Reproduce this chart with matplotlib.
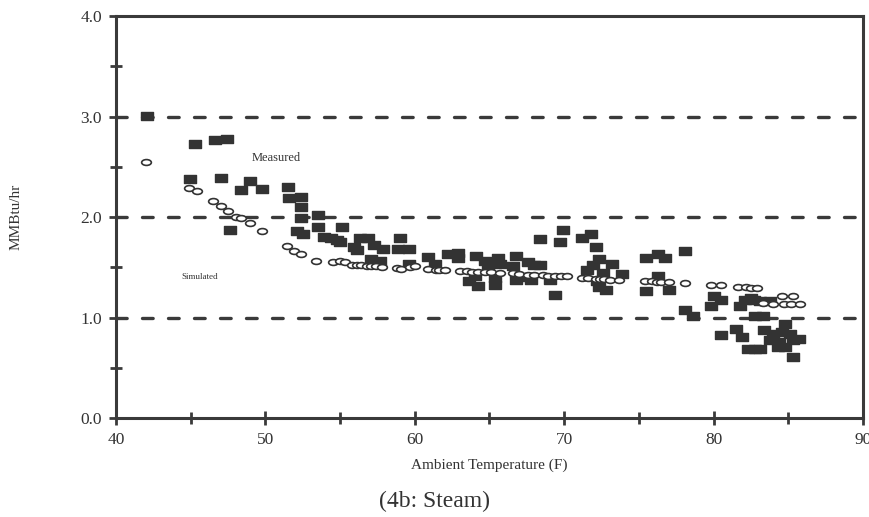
import matplotlib
matplotlib.use('Agg')
import matplotlib.pyplot as plt
from matplotlib.path import Path
from matplotlib.transforms import Affine2D
from matplotlib.ticker import MultipleLocator

# measured steam use (filled squares)
measured_temp = [42.1, 45.3, 46.6, 47.4, 44.95, 47.0, 48.95, 48.4, 49.8,
                 51.5, 51.6, 52.4, 52.4, 52.4, 53.5, 53.5, 53.9, 54.8, 47.6, 52.1, 52.5,
                 55.1, 54.4, 55.0, 55.9, 56.1, 56.3, 56.9, 57.3, 57.9, 57.1, 57.7, 59.0, 58.9, 59.6, 59.6, 60.9,
                 61.35, 62.2, 62.9, 62.9, 64.1, 64.7, 64.9, 65.6, 65.7, 63.6, 64.25, 65.4, 64.0, 65.4,
                 66.8, 66.6, 66.8, 67.6, 68.0, 67.4, 67.8, 68.4,
                 69.9, 69.7, 71.2, 71.8, 72.1, 72.35, 71.95, 71.5, 73.2, 72.6, 72.2, 72.3, 72.8, 73.85,
                 69.05, 69.4, 68.4, 75.5,
                 76.3, 76.75, 78.1, 76.3, 75.5, 77.0, 78.1, 78.6, 80.0, 80.5, 79.8, 81.5, 81.9, 80.5,
                 81.8, 82.1, 82.5, 82.3,
                 82.7, 83.1, 83.8, 82.8, 83.3, 83.4, 84.0, 84.6, 85.1, 85.7, 83.8, 84.4, 84.8, 84.3,
                 84.8, 82.8, 83.1, 85.3, 85.3]
measured_load = [3.01, 2.73, 2.77, 2.78, 2.38, 2.39, 2.36, 2.27, 2.28,
                 2.30, 2.19, 2.20, 2.10, 1.99, 2.02, 1.90, 1.80, 1.77, 1.87, 1.86, 1.83,
                 1.90, 1.79, 1.75, 1.70, 1.67, 1.79, 1.79, 1.72, 1.68, 1.58, 1.56, 1.79, 1.68, 1.68, 1.53, 1.60,
                 1.53, 1.63, 1.64, 1.59, 1.61, 1.56, 1.52, 1.59, 1.53, 1.36, 1.31, 1.32, 1.41, 1.39,
                 1.61, 1.51, 1.37, 1.55, 1.52, 1.40, 1.37, 1.78,
                 1.87, 1.75, 1.79, 1.83, 1.70, 1.58, 1.52, 1.47, 1.53, 1.44, 1.36, 1.30, 1.27, 1.43,
                 1.37, 1.22, 1.52, 1.59,
                 1.63, 1.59, 1.66, 1.41, 1.26, 1.27, 1.07, 1.01, 1.21, 1.17, 1.11, 0.89, 0.81, 0.83,
                 1.11, 1.17, 1.19, 0.69,
                 1.17, 1.16, 1.16, 1.01, 1.01, 0.88, 0.84, 0.86, 0.84, 0.79, 0.78, 0.76, 0.71, 0.71,
                 0.94, 0.69, 0.69, 0.61, 0.78]

# simulated steam use (open ellipses)
simulated_temp = [42.0, 44.9, 45.4, 46.5, 47.0, 47.5, 48.0, 48.4, 48.95, 49.75, 51.45, 51.9, 52.4, 53.4, 54.5,
                  55.0, 55.3, 55.8, 56.1, 56.4, 56.8, 57.1, 57.4, 57.8, 58.8, 59.1, 59.7, 60.0, 60.9, 61.4,
                  61.6, 62.0, 63.0, 63.5, 63.8, 64.25, 64.7, 65.1, 65.7, 66.6, 67.0, 67.6, 68.0, 68.6,
                  68.9, 69.4, 69.8, 70.2, 71.2, 71.6, 72.1, 72.4, 72.7, 73.1, 73.7, 75.4,
                  75.85, 76.2, 76.5, 77.0, 78.1, 79.8, 80.5, 81.65, 82.2,
                  82.5, 82.9, 84.55, 85.3, 83.3, 84.0, 84.7, 85.2, 85.8]
simulated_load = [2.55, 2.29, 2.26, 2.16, 2.11, 2.06, 2.00, 1.99, 1.94, 1.86, 1.71, 1.66, 1.63, 1.56, 1.55,
                  1.56, 1.55, 1.52, 1.52, 1.52, 1.51, 1.51, 1.51, 1.50, 1.49, 1.48, 1.50, 1.51, 1.48, 1.47,
                  1.47, 1.47, 1.46, 1.46, 1.45, 1.45, 1.45, 1.45, 1.44, 1.44, 1.43, 1.42, 1.42, 1.42,
                  1.41, 1.41, 1.41, 1.41, 1.39, 1.39, 1.38, 1.38, 1.38, 1.37, 1.37, 1.36,
                  1.36, 1.35, 1.35, 1.35, 1.34, 1.32, 1.32, 1.30, 1.30,
                  1.29, 1.29, 1.21, 1.21, 1.14, 1.13, 1.13, 1.13, 1.13]

grid_levels = [1.0, 2.0, 3.0]

plt.rcParams['font.family'] = ['Liberation Serif', 'DejaVu Serif']
ink = '#3a3a3a'

# wide flat markers, like the old scanned plot
rect = Path([(-1, -0.6), (1, -0.6), (1, 0.6), (-1, 0.6), (-1, -0.6)],
            [Path.MOVETO, Path.LINETO, Path.LINETO, Path.LINETO, Path.CLOSEPOLY])
ellipse = Affine2D().scale(1, 0.6).transform_path(Path.unit_circle())

fig = plt.figure(figsize=(8.69, 5.17), dpi=100)
ax = fig.add_axes([0.1335, 0.1915, 0.8595, 0.7775])

#dashed reference lines
for lev in grid_levels:
    ax.axhline(lev, color=ink, lw=2.4, dashes=(3.2, 4.6), dash_capstyle='round', zorder=1)

ax.plot(measured_temp, measured_load, ls='none', marker=rect, ms=8.5,
        color='#333333', mec='#333333', zorder=3)
ax.plot(simulated_temp, simulated_load, ls='none', marker=ellipse, ms=7,
        mfc='white', mec='#333333', mew=1.2, zorder=4)

ax.text(50.7, 2.59, 'Measured', fontsize=9, ha='center', va='center', color='#333333')
ax.text(45.6, 1.40, 'Simulated', fontsize=6.5, ha='center', va='center', color='#333333')

ax.set_xlim(40, 90)
ax.set_ylim(0, 4)
ax.xaxis.set_major_locator(MultipleLocator(10))
ax.xaxis.set_minor_locator(MultipleLocator(5))
ax.yaxis.set_major_locator(MultipleLocator(1))
ax.yaxis.set_minor_locator(MultipleLocator(0.5))
ax.yaxis.set_major_formatter(plt.FormatStrFormatter('%.1f'))

for s in ax.spines.values():
    s.set_linewidth(2.2)
    s.set_color(ink)
ax.tick_params(which='major', direction='inout', length=10, width=2, color=ink,
               labelsize=12.5, labelcolor='#333333', pad=5)
ax.tick_params(which='minor', direction='inout', length=8, width=2, color=ink)

ax.set_xlabel('Ambient Temperature (F)', fontsize=11, color='#333333', labelpad=8)
ax.set_ylabel('MMBtu/hr', fontsize=11, color='#333333', labelpad=42)

fig.text(0.5, 0.01, '(4b: Steam)', fontsize=17, ha='center', va='bottom', color='#333333')

fig.savefig('out.png', dpi=100)
